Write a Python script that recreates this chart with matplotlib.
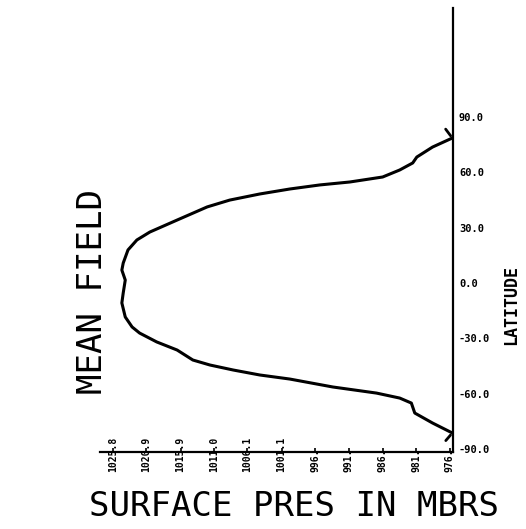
import matplotlib
matplotlib.use("Agg")
import matplotlib.pyplot as plt

# mean field of surface pressure vs latitude
lat = [78.5, 73.6, 68.2, 65.0, 61.2, 57.4, 54.7, 53.1, 50.9, 48.2, 44.9,
       41.2, 34.1, 27.6, 23.3, 17.9, 10.8, 7.0, 1.6, -5.4, -10.8, -18.4,
       -23.8, -27.1, -31.9, -36.3, -41.7, -44.4, -47.1, -49.8, -52.0,
       -56.3, -59.6, -62.3, -65.0, -70.4, -75.8, -81.2]
pres = [976.1, 979.0, 981.3, 981.9, 983.8, 986.3, 991.1, 995.5, 999.9,
        1004.3, 1008.7, 1012.0, 1016.4, 1020.4, 1022.3, 1023.6, 1024.3,
        1024.5, 1024.0, 1024.3, 1024.5, 1024.0, 1023.0, 1021.9, 1019.4,
        1016.4, 1014.1, 1011.6, 1008.2, 1004.3, 999.9, 993.6, 987.2,
        983.8, 982.1, 981.6, 979.0, 976.1]

xticks = [1025.8, 1020.9, 1015.9, 1011.0, 1006.1, 1001.1, 996.2, 991.3,
          986.3, 981.4, 976.5]
xlabels = ["1025.8", "1020.9", "1015.9", "1011.0", "1006.1", "1001.1",
           "996.", "991.", "986.", "981.", "976."]
yticks = [90, 60, 30, 0, -30, -60, -90]
ylabels = ["90.0", "60.0", "30.0", "0.0", "-30.0", "-60.0", "-90.0"]

mono = "DejaVu Sans Mono"

fig = plt.figure(figsize=(5.26, 5.29), dpi=100)
ax = fig.add_axes([100 / 526, 1 - 452 / 529, 353 / 526, 444 / 529])

ax.plot(pres, lat, color="black", lw=2.2, solid_capstyle="round",
        solid_joinstyle="round")
# little end marks of the plotter at both ends of the curve
ax.annotate("", xy=(pres[0], lat[0]), xytext=(-6, 8), textcoords="offset points",
            arrowprops=dict(arrowstyle="-", lw=2, color="black"))
ax.annotate("", xy=(pres[-1], lat[-1]), xytext=(-6, -7), textcoords="offset points",
            arrowprops=dict(arrowstyle="-", lw=2, color="black"))

ax.set_xlim(1027.7, 976.0)
ax.set_ylim(-91.5, 148.9)

for s in ["top", "left"]:
    ax.spines[s].set_visible(False)
for s in ["bottom", "right"]:
    ax.spines[s].set_linewidth(1.6)

ax.set_xticks(xticks, xlabels)
ax.tick_params(axis="x", direction="in", length=3, width=1.2, pad=14.4,
               labelrotation=90)
plt.setp(ax.get_xticklabels(), va="bottom", family=mono, weight="bold",
         fontsize=7)

ax.yaxis.tick_right()
ax.set_yticks(yticks, ylabels)
ax.tick_params(axis="y", direction="in", length=0, pad=4.3)
plt.setp(ax.get_yticklabels(), ha="left", family=mono, weight="bold",
         fontsize=7.5)

fig.text(294 / 526, 1 - 507 / 529, "SURFACE PRES IN MBRS", family=mono,
         fontsize=24.5, ha="center", va="center")
fig.text(93 / 526, 1 - 292 / 529, "MEAN FIELD", family=mono, fontsize=24.5,
         rotation=90, ha="center", va="center")
fig.text(511 / 526, 1 - 305 / 529, "LATITUDE", family=mono, fontsize=12,
         weight="bold", rotation=90, ha="center", va="center")

fig.savefig("out.png", dpi=100)
